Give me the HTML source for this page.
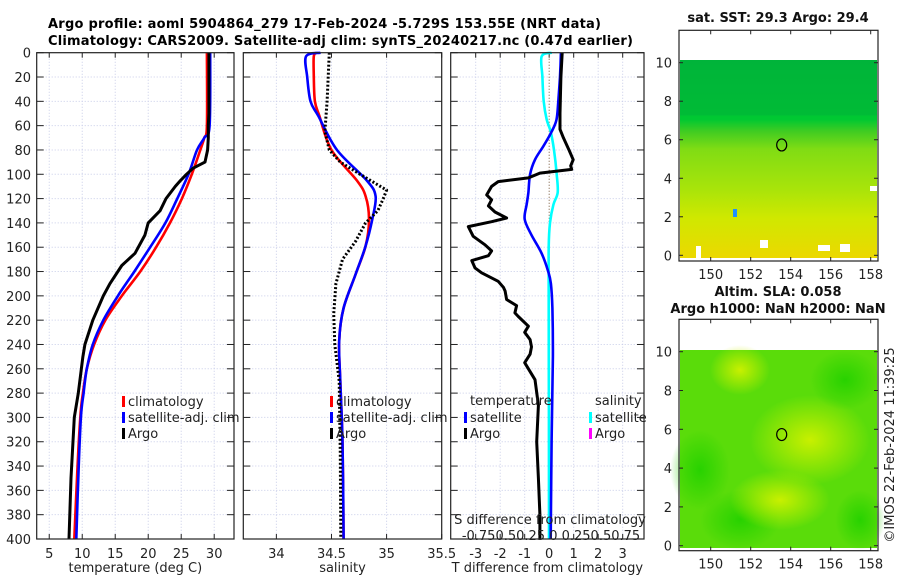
<!DOCTYPE html>
<html><head><meta charset="utf-8">
<style>
html,body{margin:0;padding:0;background:#fff;}
svg{display:block;font-family:"DejaVu Sans","Liberation Sans",sans-serif;}
</style></head>
<body>
<svg id="fig" width="900" height="580" viewBox="0 0 900 580" xmlns="http://www.w3.org/2000/svg">
<defs>
<linearGradient id="sstGrad" x1="0" y1="0" x2="0" y2="1">
<stop offset="0" stop-color="#00b43c"/>
<stop offset="0.3" stop-color="#00c832"/>
<stop offset="0.36" stop-color="#40cc22"/>
<stop offset="0.45" stop-color="#80dc14"/>
<stop offset="0.65" stop-color="#a8e40a"/>
<stop offset="0.8" stop-color="#d0e800"/>
<stop offset="1" stop-color="#ecd800"/>
</linearGradient>
<radialGradient id="slaBlob1" cx="0.5" cy="0.5" r="0.5"><stop offset="0" stop-color="#c8f000"/><stop offset="1" stop-color="#c8f000" stop-opacity="0"/></radialGradient>
<radialGradient id="slaBlob2" cx="0.5" cy="0.5" r="0.5"><stop offset="0" stop-color="#28d200"/><stop offset="1" stop-color="#28d200" stop-opacity="0"/></radialGradient>
</defs>
<g id="titles">
<text x="48" y="28" font-size="13" font-weight="bold" textLength="553">Argo profile: aoml 5904864_279 17-Feb-2024 -5.729S 153.55E (NRT data)</text>
<text x="48" y="45" font-size="13" font-weight="bold" textLength="585">Climatology: CARS2009. Satellite-adj clim: synTS_20240217.nc (0.47d earlier)</text>
</g>
<g id="panels"></g>
<g id="maps"></g>
<text transform="translate(894,445) rotate(-90)" text-anchor="middle" font-size="13" fill="#222">©IMOS 22-Feb-2024 11:39:25</text>
</svg>
<script>
// ---- data ----
const tDepth = [0,50,60,70,80,90,95,100,105,110,120,130,140,150,165,175,190,200,220,240,250,280,300,350,400];
const tArgo  = [29.2,29.2,29.1,29.1,29.0,28.6,26.8,25.8,24.9,24.1,22.7,21.8,20.0,19.5,18.0,16.0,14.2,13.2,11.6,10.4,10.1,9.4,8.8,8.3,8.0];
const tClimDepth = [0,60,70,80,100,120,140,160,180,200,220,240,260,280,300,350,400];
const tClim = [28.9,28.9,28.5,27.9,26.6,25.1,23.3,21.2,18.8,16.0,13.5,11.8,10.7,10.1,9.7,9.2,8.8];
const tSat  = [29.4,29.3,28.5,27.4,26.1,24.4,22.6,20.3,17.9,15.4,13.2,11.6,10.7,10.2,9.8,9.4,9.1];
const sClimDepth = [0,3,20,40,52,80,105,118,137,159,182,210,237,270,320,400];
const sSat  = [34.40,34.27,34.28,34.31,34.38,34.55,34.82,34.90,34.87,34.81,34.72,34.61,34.57,34.58,34.60,34.61];
const sClim = [34.37,34.34,34.34,34.35,34.39,34.50,34.73,34.81,34.84,34.81,34.72,34.61,34.57,34.58,34.60,34.61];
const sArgoDepth = [0,20,40,52,65,80,90,100,113,120,130,140,155,170,190,215,240,270,330,400];
const sArgo = [34.48,34.47,34.46,34.45,34.44,34.48,34.58,34.76,35.00,34.97,34.92,34.81,34.72,34.60,34.54,34.52,34.53,34.57,34.58,34.585];
const dArgoDepth = [0,20,50,63,70,80,88,93,96,99,103,106,110,117,121,126,131,136,139,143,151,158,163,167,171,177,181,188,193,196,203,208,214,217,225,230,236,242,248,255,269,290,320,350,380,400];
const dTArgo = [0.53,0.48,0.44,0.44,0.58,0.81,0.98,0.88,0.92,-0.38,-0.85,-2.08,-2.35,-2.55,-2.35,-2.48,-2.21,-1.74,-2.35,-3.30,-3.10,-2.62,-2.35,-2.48,-3.16,-3.03,-2.76,-2.08,-1.87,-1.80,-1.74,-1.33,-1.40,-1.26,-0.85,-1.0,-0.78,-0.72,-0.78,-1.0,-0.58,-0.44,-0.51,-0.44,-0.38,-0.38];
const dSatDepth = [0,20,40,55,65,77,88,100,115,125,137,150,165,180,190,210,250,320,400];
const dTSat = [0.48,0.44,0.37,0.30,0.10,-0.24,-0.58,-0.78,-0.85,-0.92,-1.0,-0.72,-0.31,-0.04,0.07,0.13,0.15,0.10,0.06];
const dSDepth = [0,3,20,40,55,65,80,100,115,125,140,160,200,300,400];
const dSSat = [0.025,-0.075,-0.068,-0.055,-0.025,0.015,0.048,0.075,0.085,0.042,0.008,-0.005,-0.005,-0.003,-0.002];
const p1Ticks = [5,10,15,20,25,30];
const p2Ticks = [34,34.5,35,35.5];
const p3Ticks = [-3,-2,-1,0,1,2,3];
const depthTicks = [0,20,40,60,80,100,120,140,160,180,200,220,240,260,280,300,320,340,360,380,400];
const mapXTicks = [150,152,154,156,158];
const mapYTicks = [0,2,4,6,8,10];

const NS="http://www.w3.org/2000/svg";
function mk(tag, attrs, parent){const e=document.createElementNS(NS,tag);for(const k in attrs)e.setAttribute(k,attrs[k]);if(parent)parent.appendChild(e);return e;}
const Y0=52.7, Y1=539;
function yD(d){return Y0+(d/400)*(Y1-Y0);}
const panels=[
 {x0:36.7,x1:234,min:3.1,max:33,ticks:p1Ticks,label:'temperature (deg C)',name:'temperature'},
 {x0:243.3,x1:441.7,min:33.7,max:35.5,ticks:p2Ticks,label:'salinity',name:'salinity'},
 {x0:450.7,x1:644,min:-4.02,max:3.87,ticks:p3Ticks,label:'T difference from climatology',name:'difference'}
];
function xf(p){return v=>p.x0+(v-p.min)/(p.max-p.min)*(p.x1-p.x0);}
const root=document.getElementById('panels');
panels.forEach((p,i)=>{
 const g=mk('g',{},root);
 
 
 const X=xf(p);
 p.ticks.forEach(t=>{const x=X(t);if(x>p.x0+1&&x<p.x1-1){
   const l=mk('line',{x1:x,x2:x,y1:Y0,y2:Y1,stroke:'#c8cce8','stroke-dasharray':'1,2','stroke-width':1},g);
   
   }
   const tk=mk('line',{x1:x,x2:x,y1:Y1,y2:Y1-5,stroke:'#222'},g);
   
   
   mk('line',{x1:x,x2:x,y1:Y0,y2:Y0+5,stroke:'#222'},g);
   const tl=mk('text',{x:x,y:Y1+19,'font-size':13,'text-anchor':'middle',fill:'#222'},g);
   tl.textContent=String(t);
   
   
 });
 depthTicks.forEach(d=>{const y=yD(d);
   if(d>0&&d<400){const l=mk('line',{x1:p.x0,x2:p.x1,y1:y,y2:y,stroke:'#c8cce8','stroke-dasharray':'1,2'},g);
   
   }
   mk('line',{x1:p.x0,x2:p.x0+7,y1:y,y2:y,stroke:'#222'},g);
   mk('line',{x1:p.x1,x2:p.x1-7,y1:y,y2:y,stroke:'#222'},g);
   if(i===0){const t=mk('text',{x:31,y:y+5,'font-size':13,'text-anchor':'end',fill:'#222'},g);t.textContent=String(d);
   
   }
 });
 const xl=mk('text',{x:(p.x0+p.x1)/2,y:572,'font-size':13,'text-anchor':'middle',fill:'#222'},g);
 xl.textContent=p.label;
 
 
 p.g=g;p.X=X;
});
function smoothPath(pts){
 let d='M'+pts[0][0].toFixed(1)+','+pts[0][1].toFixed(1);
 for(let k=0;k<pts.length-1;k++){
  const p0=pts[Math.max(k-1,0)],p1=pts[k],p2=pts[k+1],p3=pts[Math.min(k+2,pts.length-1)];
  const c1=[p1[0]+(p2[0]-p0[0])/6,p1[1]+(p2[1]-p0[1])/6];
  const c2=[p2[0]-(p3[0]-p1[0])/6,p2[1]-(p3[1]-p1[1])/6];
  d+=' C'+c1[0].toFixed(1)+','+c1[1].toFixed(1)+' '+c2[0].toFixed(1)+','+c2[1].toFixed(1)+' '+p2[0].toFixed(1)+','+p2[1].toFixed(1);
 }
 return d;
}
function line(p,depths,vals,color,name,dash,w,smooth){
 const pts=depths.map((d,k)=>[p.X(vals[k]),yD(d)]);
 const a={fill:'none',stroke:color,'stroke-width':w||2.6,'stroke-linejoin':'round'};
 if(dash)a['stroke-dasharray']=dash;
 let e;
 if(smooth){a.d=smoothPath(pts);e=mk('path',a,p.g);}
 else{a.points=pts.map(q=>q[0].toFixed(1)+','+q[1].toFixed(1)).join(' ');e=mk('polyline',a,p.g);}
 
 
}
const P1=panels[0],P2=panels[1],P3=panels[2];
const zl=mk('line',{x1:P3.X(0),x2:P3.X(0),y1:Y0,y2:Y1,stroke:'#8a6a40','stroke-dasharray':'1,2'},P3.g);


line(P1,tClimDepth,tClim,'#ff0000','temp-climatology-line',null,2.6,true);
line(P1,tClimDepth,tSat,'#0000ff','temp-satellite-line',null,2.6,true);
line(P1,tDepth,tArgo,'#000000','temp-argo-line',null,3);
line(P2,sClimDepth,sClim,'#ff0000','sal-climatology-line',null,2.6,true);
line(P2,sClimDepth,sSat,'#0000ff','sal-satellite-line',null,2.6,true);
line(P2,sArgoDepth,sArgo,'#000000','sal-argo-line','2,2',3);
const sScale=100;
const sPtsArr=dSDepth.map((d,k)=>[P3.X(0)+dSSat[k]*sScale,yD(d)]);
const sl=mk('path',{d:smoothPath(sPtsArr),fill:'none',stroke:'#00ffff','stroke-width':2.6},P3.g);


line(P3,dSatDepth,dTSat,'#0000ff','temp-diff-satellite-line',null,2.6,true);
line(P3,dArgoDepth,dTArgo,'#000000','temp-diff-argo-line',null,3);
panels.forEach(p=>{const r=mk('rect',{x:p.x0,y:Y0,width:p.x1-p.x0,height:Y1-Y0,fill:'none',stroke:'#222','stroke-width':1.2},p.g);
 
 });
function legend(g,x,y,color,text){
 const m=mk('rect',{x:x,y:y-9,width:3,height:11,fill:color},g);
 
 
 const t=mk('text',{x:x+6,y:y+1,'font-size':13,fill:'#222'},g);t.textContent=text;
 
 
}
[[P1,122],[P2,330]].forEach(([p,x])=>{
 legend(p.g,x,405,'#ff0000','climatology');
 legend(p.g,x,421,'#0000ff','satellite-adj. clim');
 legend(p.g,x,437,'#000000','Argo');
});
let t1=mk('text',{x:470,y:405,'font-size':13,fill:'#222'},P3.g);t1.textContent='temperature';


let t2=mk('text',{x:595,y:405,'font-size':13,fill:'#222'},P3.g);t2.textContent='salinity';


legend(P3.g,464,421,'#0000ff','satellite');
legend(P3.g,464,437,'#000000','Argo');
legend(P3.g,589,421,'#00ffff','satellite');
legend(P3.g,589,437,'#ff00ff','Argo');
let s1=mk('text',{x:550,y:524,'font-size':13,'text-anchor':'middle',fill:'#222'},P3.g);s1.textContent='S difference from climatology';


let s2=mk('text',{x:551,y:540,'font-size':13,'text-anchor':'middle',fill:'#222'},P3.g);s2.textContent='-0.750.50.25 0 0.250.50.75';



const mroot=document.getElementById('maps');
function map(top,bottom,y10,y0,imgTop,imgBot,titles,kind){
 const g=mk('g',{},mroot);
 
 
 const x0=679,x1=878;
 const mx=v=>710.7+(v-150)*20, my=v=>y0+(v/10)*(y10-y0);
 titles.forEach((t,k)=>{const e=mk('text',{x:778,y:t[1],'font-size':13,'font-weight':'bold','text-anchor':'middle',fill:'#111'},g);e.textContent=t[0];
  
  });
 if(kind==='sst'){
  mk('rect',{x:x0+1,y:imgTop,width:x1-x0-2,height:imgBot-imgTop,fill:'url(#sstGrad)'},g);
  mk('rect',{x:x0+1,y:imgTop,width:x1-x0-2,height:(imgBot-imgTop)*0.28,fill:'#00b438',opacity:0.6},g);
  [[696,246,5,12],[760,240,8,8],[818,245,12,6],[840,244,10,8],[870,186,8,5]].forEach(r=>mk('rect',{x:r[0],y:r[1],width:r[2],height:r[3],fill:'#fff'},g));
  mk('rect',{x:733,y:209,width:4,height:8,fill:'#1e90ff'},g);
 } else {
  mk('rect',{x:x0+1,y:imgTop,width:x1-x0-2,height:imgBot-imgTop,fill:'#5adc0a'},g);
  [[810,440,60,45,1],[740,370,30,25,1],[700,470,30,40,2],[740,520,40,30,2],[845,380,35,30,2],[780,500,50,30,1],[860,520,25,30,2]].forEach(b=>mk('ellipse',{cx:b[0],cy:b[1],rx:b[2],ry:b[3],fill:'url(#slaBlob'+b[4]+')'},g));
 }
 const c=mk('ellipse',{cx:mx(153.55),cy:my(5.73),rx:5,ry:6,fill:'none',stroke:'#000','stroke-width':1.2},g);
 
 
 mapXTicks.forEach(v=>{const x=mx(v);mk('line',{x1:x,x2:x,y1:bottom,y2:bottom-4,stroke:'#222'},g);mk('line',{x1:x,x2:x,y1:top,y2:top+4,stroke:'#222'},g);
  const t=mk('text',{x:x,y:bottom+18,'font-size':13,'text-anchor':'middle',fill:'#222'},g);t.textContent=String(v);
  
  });
 mapYTicks.forEach(v=>{const y=my(v);mk('line',{x1:x0,x2:x0+4,y1:y,y2:y,stroke:'#222'},g);mk('line',{x1:x1,x2:x1-4,y1:y,y2:y,stroke:'#222'},g);
  const t=mk('text',{x:672,y:y+5,'font-size':13,'text-anchor':'end',fill:'#222'},g);t.textContent=String(v);
  
  });
 const fr=mk('rect',{x:x0,y:top,width:x1-x0,height:bottom-top,fill:'none',stroke:'#222','stroke-width':1.2},g);
 
 
}
map(30.3,261,62.7,255.3,60,258,[['sat. SST: 29.3 Argo: 29.4',22]],'sst');
map(319.3,550.7,351.7,545.7,350,548,[['Altim. SLA: 0.058',296],['Argo h1000: NaN h2000: NaN',313]],'sla');
</script>
</body></html>
